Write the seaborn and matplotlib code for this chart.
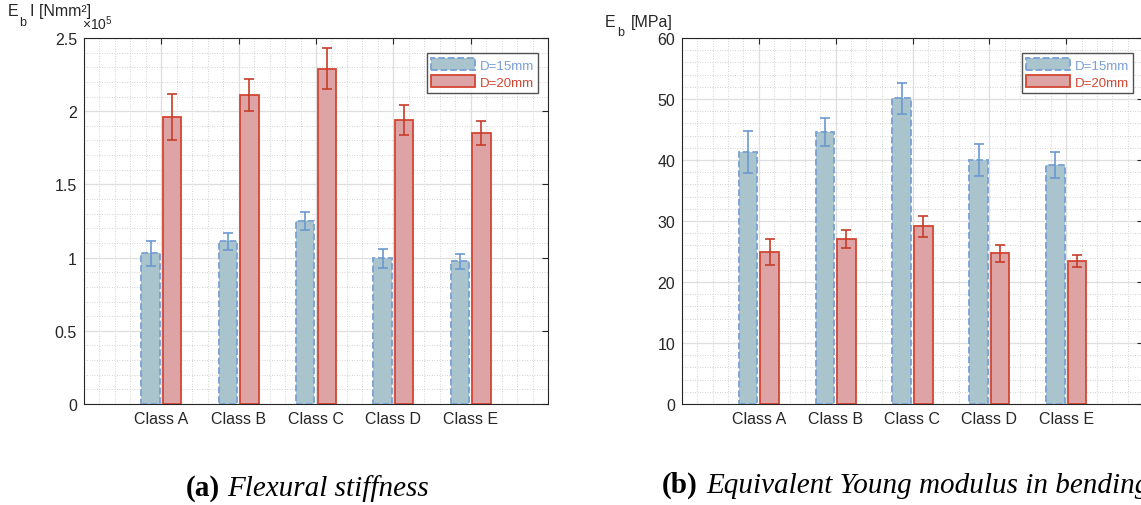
import pandas as pd
import matplotlib
matplotlib.use('Agg')
import matplotlib.pyplot as plt
import seaborn as sns
from matplotlib.patches import Patch
from matplotlib.ticker import MultipleLocator, FuncFormatter

classes = ['Class A', 'Class B', 'Class C', 'Class D', 'Class E']
series = ['D=15mm', 'D=20mm']

# flexural stiffness, x 10^5 Nmm^2
stiff_15 = [1.03, 1.11, 1.25, 0.995, 0.975]
stiff_15_err = [0.085, 0.055, 0.063, 0.065, 0.053]
stiff_20 = [1.96, 2.11, 2.29, 1.94, 1.85]
stiff_20_err = [0.155, 0.11, 0.14, 0.105, 0.08]

# equivalent young modulus, MPa
young_15 = [41.3, 44.6, 50.1, 40.0, 39.2]
young_15_err = [3.5, 2.3, 2.5, 2.65, 2.1]
young_20 = [24.9, 27.0, 29.1, 24.7, 23.5]
young_20_err = [2.1, 1.45, 1.8, 1.35, 1.0]

blue_fill = '#aac4ce'
blue_edge = '#78a0d4'
blue_err = '#6a98cf'
red_fill = '#dea3a4'
red_edge = '#d24632'
red_err = '#c63d2a'
dark = '#262626'

sns.set_style('white')
plt.rcParams['font.family'] = ['Liberation Sans', 'DejaVu Sans']
plt.rcParams['mathtext.fontset'] = 'custom'
plt.rcParams['mathtext.rm'] = 'Liberation Sans'


def make_df(v15, v20):
    rows = []
    for c, a, b in zip(classes, v15, v20):
        rows.append({'cls': c, 'D': series[0], 'val': a})
        rows.append({'cls': c, 'D': series[1], 'val': b})
    return pd.DataFrame(rows)


def draw(ax, v15, e15, v20, e20, ymax, major, minor):
    df = make_df(v15, v20)
    sns.barplot(data=df, x='cls', y='val', hue='D', hue_order=series,
                palette=[blue_fill, red_fill], saturation=1, width=0.56, gap=0.14,
                errorbar=None, legend=False, ax=ax, zorder=3)
    styles = [(blue_edge, '--', 1.3), (red_edge, '-', 1.3)]
    errs = [(e15, blue_err), (e20, red_err)]
    for cont, (ec, ls, lw), (err, ecol) in zip(ax.containers, styles, errs):
        xs, ys = [], []
        for p in cont.patches:
            p.set_edgecolor(ec)
            p.set_linestyle(ls)
            p.set_linewidth(lw)
            xs.append(p.get_x() + p.get_width() / 2)
            ys.append(p.get_height())
        ax.errorbar(xs, ys, yerr=err, fmt='none', ecolor=ecol, elinewidth=1.2,
                    capsize=3.8, capthick=1.2, zorder=4)

    ax.set_xlim(-1, 5)
    ax.set_ylim(0, ymax)
    ax.yaxis.set_major_locator(MultipleLocator(major))
    ax.yaxis.set_minor_locator(MultipleLocator(minor))
    ax.xaxis.set_minor_locator(MultipleLocator(0.2))
    ax.yaxis.set_major_formatter(FuncFormatter(lambda v, p: '%g' % v))
    ax.set_xlabel('')
    ax.set_ylabel('')
    ax.set_axisbelow(True)
    ax.grid(True, which='major', color='#dedede', linewidth=0.9, zorder=0)
    ax.grid(True, which='minor', color='#c4c4c4', linestyle=(0, (1, 2)), linewidth=0.6, zorder=0)
    ax.tick_params(which='major', direction='in', length=4, width=0.8, color=dark,
                   top=True, right=True, labelsize=11.5, labelcolor=dark, pad=5)
    ax.tick_params(which='minor', length=0)
    for s in ax.spines.values():
        s.set_color(dark)
        s.set_linewidth(0.8)
        s.set_visible(True)

    handles = [Patch(facecolor=blue_fill, edgecolor=blue_edge, linestyle='--', linewidth=1.3),
               Patch(facecolor=red_fill, edgecolor=red_edge, linestyle='-', linewidth=1.3)]
    leg = ax.legend(handles, series, loc='upper right', bbox_to_anchor=(0.985, 0.965),
                    fontsize=9.5, handlelength=3.3, handleheight=1.05, handletextpad=0.35,
                    labelspacing=0.25, borderpad=0.35, borderaxespad=0.2,
                    frameon=True, fancybox=False, labelcolor=[blue_edge, red_edge])
    leg.get_frame().set_edgecolor(dark)
    leg.get_frame().set_linewidth(1.0)


W, H = 1141, 506
fig = plt.figure(figsize=(W / 100, H / 100), dpi=100)
ax1 = fig.add_axes([84 / W, 1 - 405 / H, 464 / W, 366 / H])
ax2 = fig.add_axes([682 / W, 1 - 405 / H, 461 / W, 366 / H])

draw(ax1, stiff_15, stiff_15_err, stiff_20, stiff_20_err, 2.5, 0.5, 0.1)
draw(ax2, young_15, young_15_err, young_20, young_20_err, 60, 10, 2)


def px(x, y):
    return x / W, 1 - y / H


# axis titles, MATLAB style above the y axis
fig.text(*px(8, 16), 'E', fontsize=11.5, color=dark, va='baseline')
fig.text(*px(19, 26), 'b', fontsize=9, color=dark, va='baseline')
fig.text(*px(30, 16), 'I [Nmm²]', fontsize=11.5, color=dark, va='baseline')
fig.text(*px(82, 30), r'$\times$10$^{5}$', fontsize=10, color=dark, va='baseline')

fig.text(*px(605, 27), 'E', fontsize=11.5, color=dark, va='baseline')
fig.text(*px(617, 36), 'b', fontsize=9, color=dark, va='baseline')
fig.text(*px(631, 27), '[MPa]', fontsize=11.5, color=dark, va='baseline')

# subfigure captions
serif = ['Liberation Serif', 'DejaVu Serif']
fig.text(*px(186, 496), '(a)', fontsize=21, weight='bold', family=serif, color='black', va='baseline')
fig.text(*px(227, 496), 'Flexural stiffness', fontsize=21, style='italic', family=serif,
         color='black', va='baseline')
fig.text(*px(662, 493), '(b)', fontsize=21, weight='bold', family=serif, color='black', va='baseline')
fig.text(*px(706, 493), 'Equivalent Young modulus in bending', fontsize=21, style='italic',
         family=serif, color='black', va='baseline')

fig.savefig('out.png', dpi=100)
